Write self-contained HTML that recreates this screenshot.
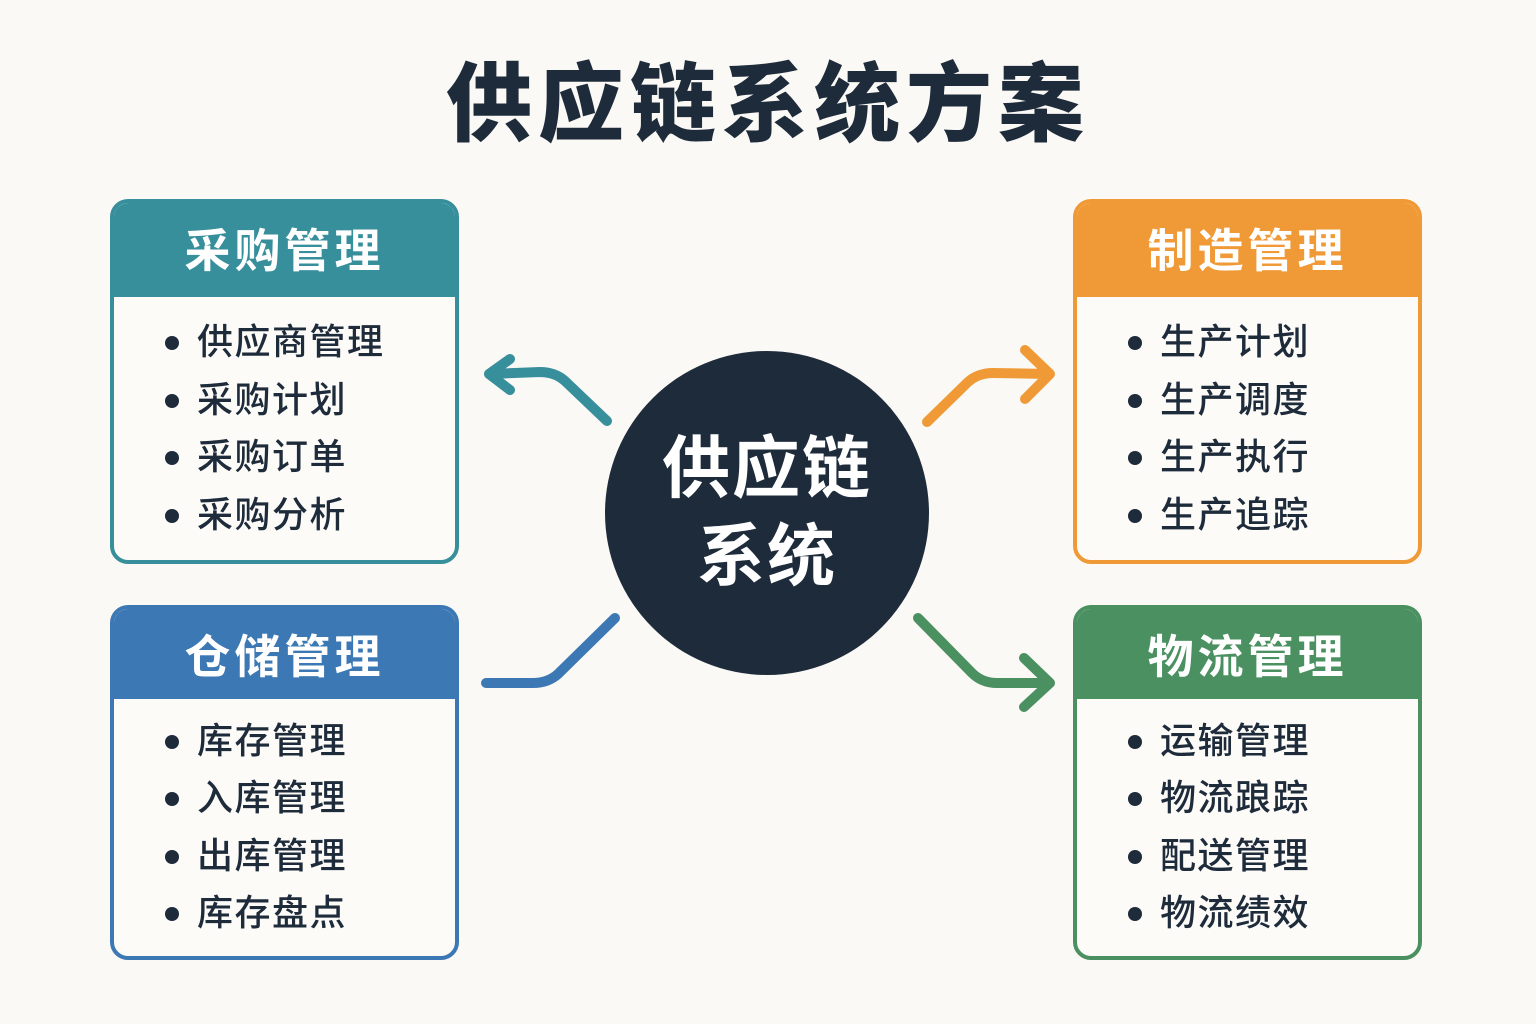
<!DOCTYPE html>
<html><head><meta charset="utf-8"><style>
body{margin:0;width:1536px;height:1024px;background:#fbf9f5;position:relative;overflow:hidden;font-family:"Liberation Sans","Noto Sans CJK SC",sans-serif;}
.t{position:absolute;left:0;width:1536px;top:50px;text-align:center;font-size:86px;font-weight:900;color:#1e2b3a;letter-spacing:6px;line-height:110px}
.box{position:absolute;width:349px;border:4px solid;border-radius:18px;background:#fcfbf8;overflow:hidden;box-sizing:border-box}
.hd{height:94px;color:#fff;font-size:46px;font-weight:bold;text-align:center;line-height:96px;letter-spacing:4px}
.it{position:absolute;left:84px;font-size:36px;letter-spacing:1.5px;color:#1e2b3a;line-height:40px;font-weight:500;white-space:nowrap}
.it:before{content:"";position:absolute;left:-32px;top:14px;width:14px;height:14px;border-radius:50%;background:#1e2b3a}
.c{position:absolute;left:605px;top:351px;width:324px;height:324px;border-radius:50%;background:#1e2b3a;color:#fff;font-size:68px;font-weight:bold;text-align:center;line-height:88px;box-sizing:border-box;padding-top:74px;letter-spacing:2px}
</style></head><body>
<div class="t">供应链系统方案</div>
<div class="box" style="left:110px;top:199px;height:365px;border-color:#368f9b"><div class="hd" style="background:#368f9b">采购管理</div></div>
<div class="box" style="left:110px;top:605px;height:355px;border-color:#3b78b4"><div class="hd" style="background:#3b78b4;height:90px">仓储管理</div></div>
<div class="box" style="left:1073px;top:199px;height:365px;border-color:#ef9a36"><div class="hd" style="background:#ef9a36">制造管理</div></div>
<div class="box" style="left:1073px;top:605px;height:355px;border-color:#4a9060"><div class="hd" style="background:#4a9060;height:90px">物流管理</div></div>
<div style="position:absolute;left:113px;top:0">
<div class="it" style="top:322px">供应商管理</div><div class="it" style="top:380px">采购计划</div><div class="it" style="top:437px">采购订单</div><div class="it" style="top:495px">采购分析</div>
<div class="it" style="top:721px">库存管理</div><div class="it" style="top:778px">入库管理</div><div class="it" style="top:836px">出库管理</div><div class="it" style="top:893px">库存盘点</div>
</div>
<div style="position:absolute;left:1076px;top:0">
<div class="it" style="top:322px">生产计划</div><div class="it" style="top:380px">生产调度</div><div class="it" style="top:437px">生产执行</div><div class="it" style="top:495px">生产追踪</div>
<div class="it" style="top:721px">运输管理</div><div class="it" style="top:778px">物流踉踪</div><div class="it" style="top:836px">配送管理</div><div class="it" style="top:893px">物流绩效</div>
</div>
<div class="c">供应链<br>系统</div>
<svg width="1536" height="1024" style="position:absolute;left:0;top:0" fill="none" stroke-width="10" stroke-linecap="round" stroke-linejoin="round">
<path d="M607 421 L565 381 Q555 372 540 372 L490 374 M510 359 L489 374 L510 390" stroke="#368f9b"/>
<path d="M927 422 L968 382 Q978 373 993 373 L1050 374 M1025 350 L1050 374 L1025 399" stroke="#ef9a36"/>
<path d="M615 618 L558 674 Q548 683 533 683 L486 683" stroke="#3b78b4"/>
<path d="M918 618 L972 673 Q982 683 997 683 L1050 683 M1024 658 L1050 683 L1024 707" stroke="#4a9060"/>
</svg>
</body></html>
